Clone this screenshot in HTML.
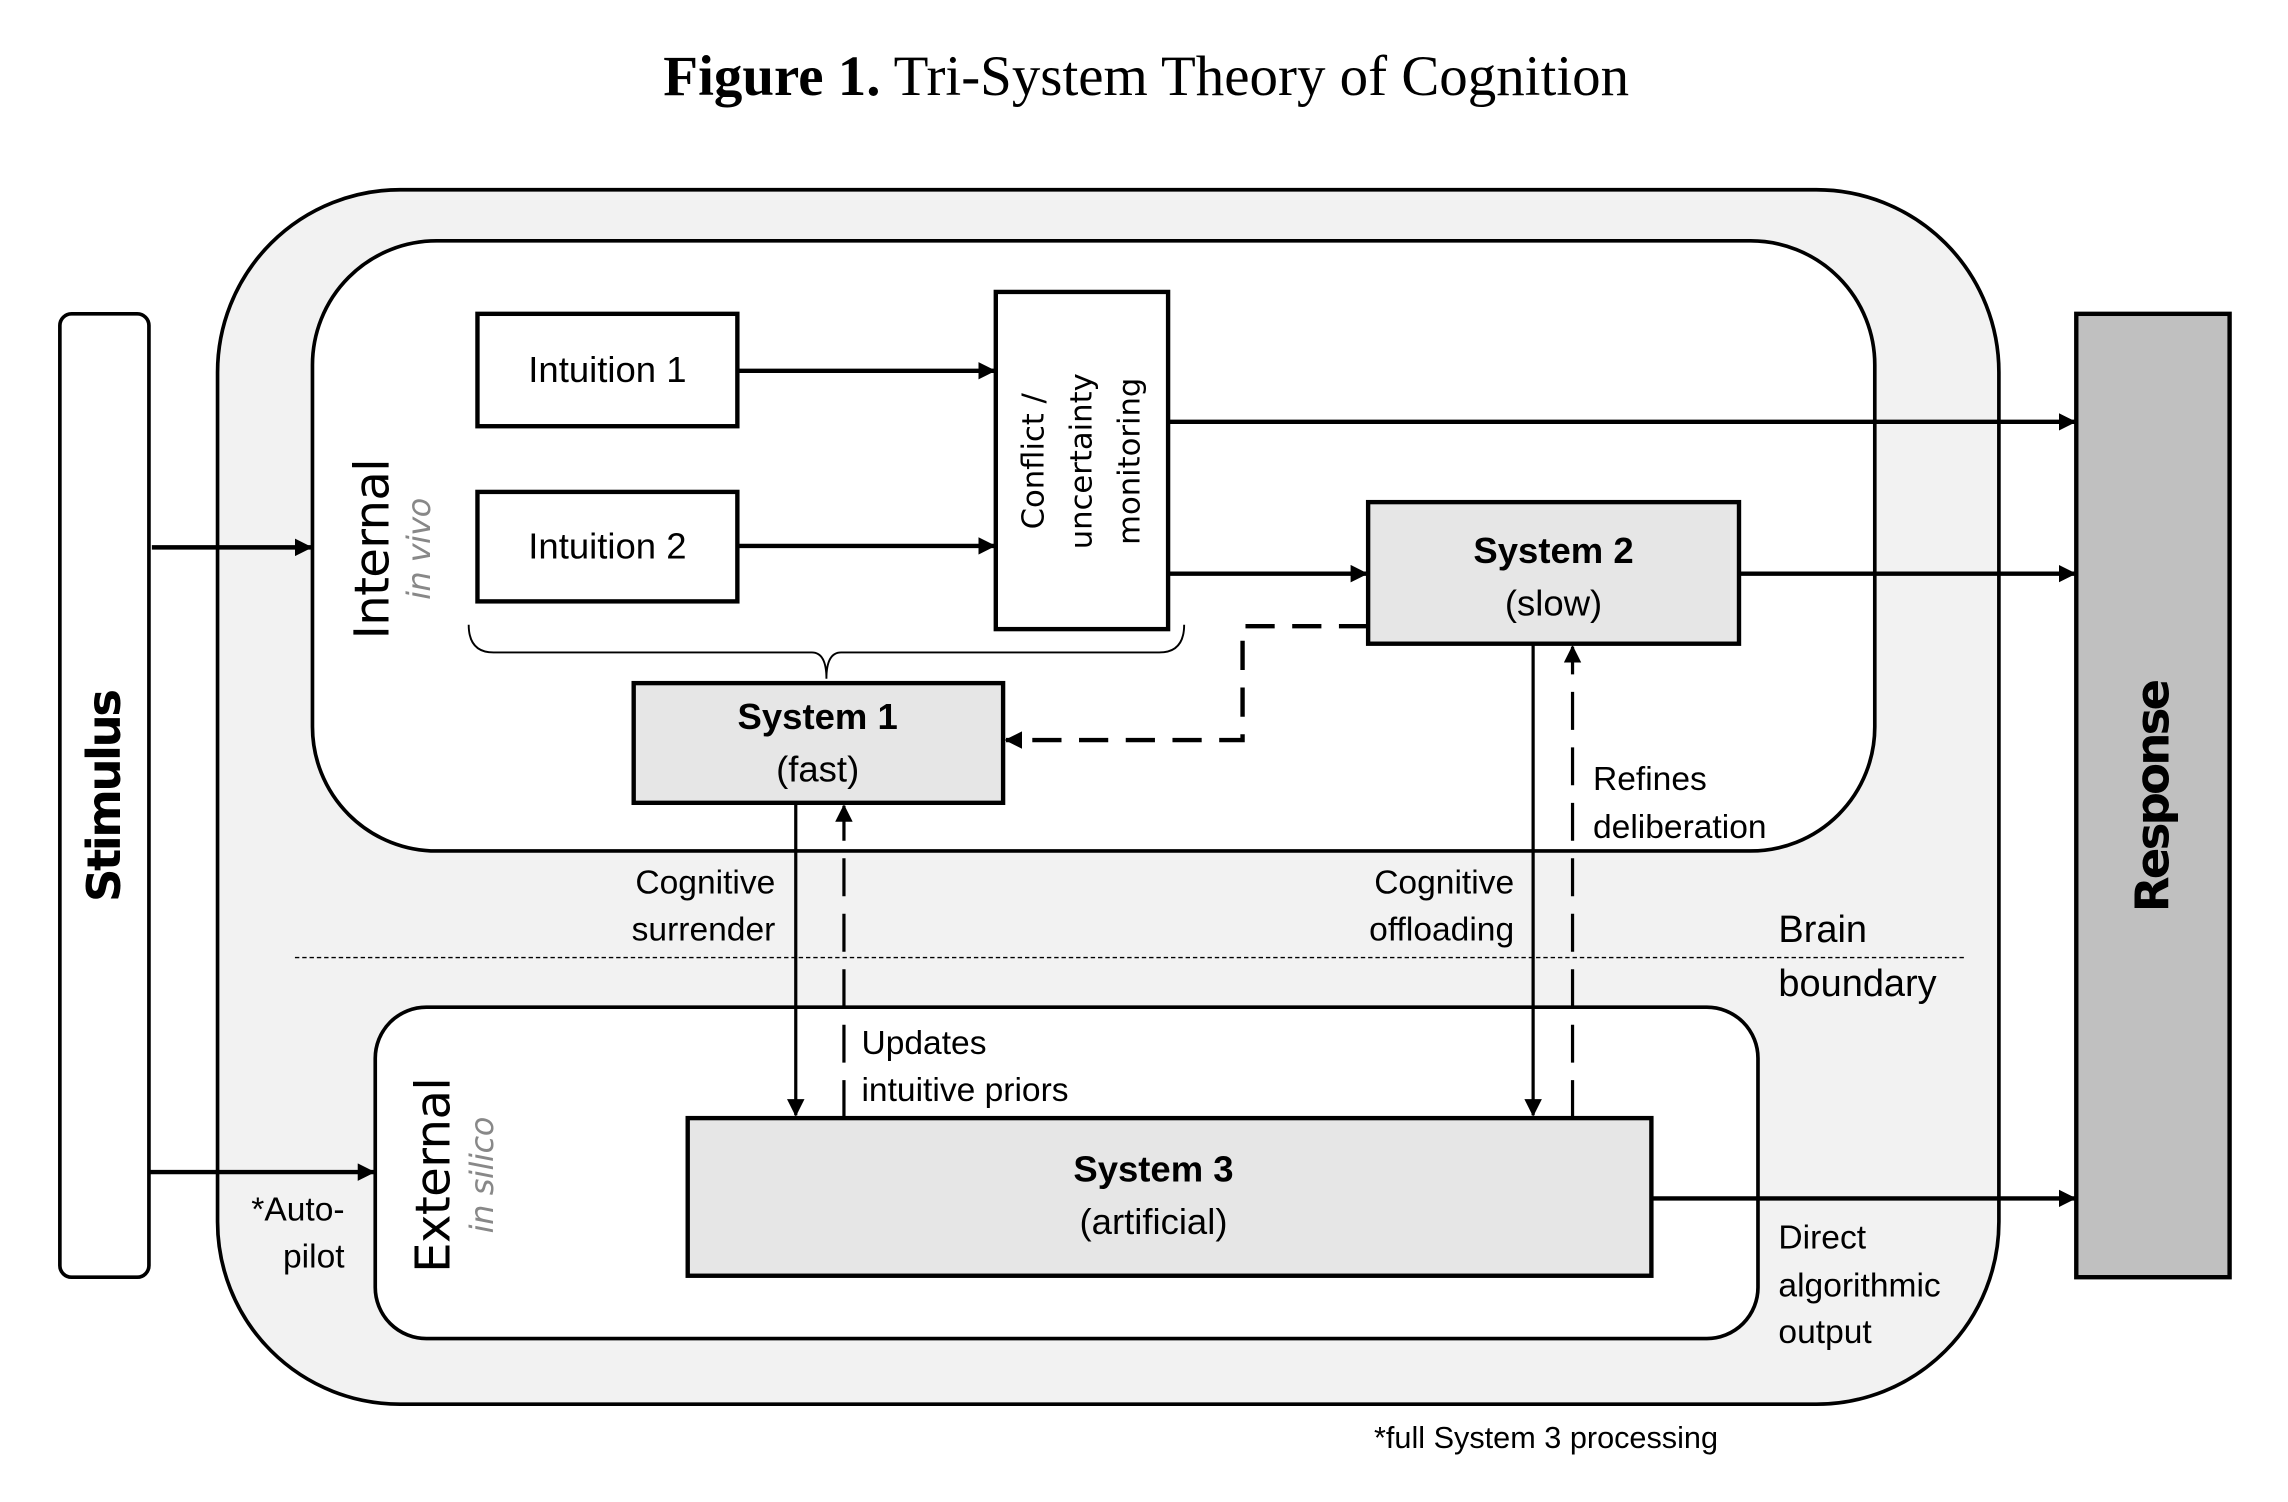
<!DOCTYPE html>
<html><head><meta charset="utf-8"><style>
html,body{margin:0;padding:0;background:#fff;}
svg{display:block;}
text{font-family:"Liberation Sans",sans-serif;fill:#000;}
.w{font-family:"DejaVu Sans","Liberation Sans",sans-serif;}
</style></head><body>
<svg width="2288" height="1502" viewBox="0 0 1567 1029" preserveAspectRatio="none" xmlns="http://www.w3.org/2000/svg">
<defs>
<marker id="a" markerWidth="12" markerHeight="12" refX="11" refY="6" orient="auto" markerUnits="userSpaceOnUse">
<path d="M0,0 L12,6 L0,12 z" fill="#000"/></marker>
</defs>
<text x="785" y="65" text-anchor="middle" style="font-family:'Liberation Serif',serif" font-size="39"><tspan font-weight="bold">Figure 1.</tspan> Tri-System Theory of Cognition</text>

<rect x="149" y="130" width="1220" height="832" rx="125" ry="125" fill="#f2f2f2" stroke="#000" stroke-width="2.5"/>
<rect x="214" y="165" width="1070" height="418" rx="85" ry="85" fill="#fff" stroke="#000" stroke-width="2.5"/>
<rect x="257" y="690" width="947" height="227" rx="35" ry="35" fill="#fff" stroke="#000" stroke-width="2.5"/>
<line x1="202" y1="656" x2="1345" y2="656" stroke="#000" stroke-width="1" stroke-dasharray="3,2"/>

<rect x="41" y="215" width="61" height="660" rx="8" fill="#fff" stroke="#000" stroke-width="2.5"/>
<text class="w" transform="translate(72,545) rotate(-90)" text-anchor="middle" dominant-baseline="central" font-size="32" font-weight="bold" textLength="146">Stimulus</text>
<rect x="1422" y="215" width="105" height="660" fill="#c0c0c0" stroke="#000" stroke-width="3"/>
<text class="w" transform="translate(1475,545) rotate(-90)" text-anchor="middle" dominant-baseline="central" font-size="32" font-weight="bold" textLength="160">Response</text>

<text class="w" transform="translate(255,376) rotate(-90)" text-anchor="middle" dominant-baseline="central" font-size="33" textLength="124">Internal</text>
<text class="w" transform="translate(287,376) rotate(-90)" text-anchor="middle" dominant-baseline="central" font-size="22" font-style="italic" style="fill:#888" textLength="70">in vivo</text>
<text class="w" transform="translate(297,805) rotate(-90)" text-anchor="middle" dominant-baseline="central" font-size="33" textLength="134">External</text>
<text class="w" transform="translate(330,805) rotate(-90)" text-anchor="middle" dominant-baseline="central" font-size="22" font-style="italic" style="fill:#888" textLength="80">in silico</text>

<rect x="327" y="215" width="178" height="77" fill="#fff" stroke="#000" stroke-width="3"/>
<text x="416" y="253" text-anchor="middle" dominant-baseline="central" font-size="25">Intuition 1</text>
<rect x="327" y="337" width="178" height="75" fill="#fff" stroke="#000" stroke-width="3"/>
<text x="416" y="374" text-anchor="middle" dominant-baseline="central" font-size="25">Intuition 2</text>
<rect x="682" y="200" width="118" height="231" fill="#fff" stroke="#000" stroke-width="3"/>
<g transform="translate(741,316) rotate(-90)" font-size="21">
<text class="w" x="0" y="-33" text-anchor="middle" dominant-baseline="central">Conflict /</text>
<text class="w" x="0" y="0" text-anchor="middle" dominant-baseline="central">uncertainty</text>
<text class="w" x="0" y="33" text-anchor="middle" dominant-baseline="central">monitoring</text>
</g>
<rect x="937" y="344" width="254" height="97" fill="#e6e6e6" stroke="#000" stroke-width="3"/>
<text x="1064" y="377" text-anchor="middle" dominant-baseline="central" font-size="25" font-weight="bold">System 2</text>
<text x="1064" y="413" text-anchor="middle" dominant-baseline="central" font-size="25">(slow)</text>
<rect x="434" y="468" width="253" height="82" fill="#e6e6e6" stroke="#000" stroke-width="3"/>
<text x="560" y="491" text-anchor="middle" dominant-baseline="central" font-size="25" font-weight="bold">System 1</text>
<text x="560" y="527" text-anchor="middle" dominant-baseline="central" font-size="25">(fast)</text>
<rect x="471" y="766" width="660" height="108" fill="#e6e6e6" stroke="#000" stroke-width="3"/>
<text x="790" y="801" text-anchor="middle" dominant-baseline="central" font-size="25" font-weight="bold">System 3</text>
<text x="790" y="837" text-anchor="middle" dominant-baseline="central" font-size="25">(artificial)</text>

<path d="M321,428 Q321,447 338,447 L556,447 Q566,447 566,465 Q566,447 576,447 L794,447 Q811,447 811,428" fill="none" stroke="#000" stroke-width="1.3"/>

<g stroke="#000" stroke-width="3" fill="none">
<line x1="505" y1="254" x2="681" y2="254" marker-end="url(#a)"/>
<line x1="505" y1="374" x2="681" y2="374" marker-end="url(#a)"/>
<line x1="800" y1="289" x2="1421" y2="289" marker-end="url(#a)"/>
<line x1="800" y1="393" x2="936" y2="393" marker-end="url(#a)"/>
<line x1="1191" y1="393" x2="1421" y2="393" marker-end="url(#a)"/>
<line x1="104" y1="375" x2="213" y2="375" marker-end="url(#a)"/>
<line x1="102" y1="803" x2="256" y2="803" marker-end="url(#a)"/>
<line x1="1131" y1="821" x2="1421" y2="821" marker-end="url(#a)"/>
<polyline points="937,429 851,429 851,507 689,507" stroke-dasharray="20,12" marker-end="url(#a)"/>
</g>
<g stroke="#000" stroke-width="2.2" fill="none">
<line x1="545" y1="550" x2="545" y2="764" marker-end="url(#a)"/>
<line x1="578" y1="766" x2="578" y2="552" stroke-dasharray="26,12" marker-end="url(#a)"/>
<line x1="1050" y1="441" x2="1050" y2="764" marker-end="url(#a)"/>
<line x1="1077" y1="766" x2="1077" y2="443" stroke-dasharray="26,12" marker-end="url(#a)"/>
</g>

<g font-size="23">
<text x="531" y="605" text-anchor="end" dominant-baseline="central">Cognitive</text>
<text x="531" y="637" text-anchor="end" dominant-baseline="central">surrender</text>
<text x="1037" y="605" text-anchor="end" dominant-baseline="central">Cognitive</text>
<text x="1037" y="637" text-anchor="end" dominant-baseline="central">offloading</text>
<text x="1091" y="534" dominant-baseline="central">Refines</text>
<text x="1091" y="567" dominant-baseline="central">deliberation</text>
<text x="590" y="715" dominant-baseline="central">Updates</text>
<text x="590" y="747" dominant-baseline="central">intuitive priors</text>
<text x="236" y="829" text-anchor="end" dominant-baseline="central">*Auto-</text>
<text x="236" y="861" text-anchor="end" dominant-baseline="central">pilot</text>
<text x="1218" y="848" dominant-baseline="central">Direct</text>
<text x="1218" y="881" dominant-baseline="central">algorithmic</text>
<text x="1218" y="913" dominant-baseline="central">output</text>
<text x="941" y="985" dominant-baseline="central" font-size="21">*full System 3 processing</text>
</g>
<text x="1218" y="637" dominant-baseline="central" font-size="26">Brain</text>
<text x="1218" y="674" dominant-baseline="central" font-size="26">boundary</text>
</svg>
</body></html>
